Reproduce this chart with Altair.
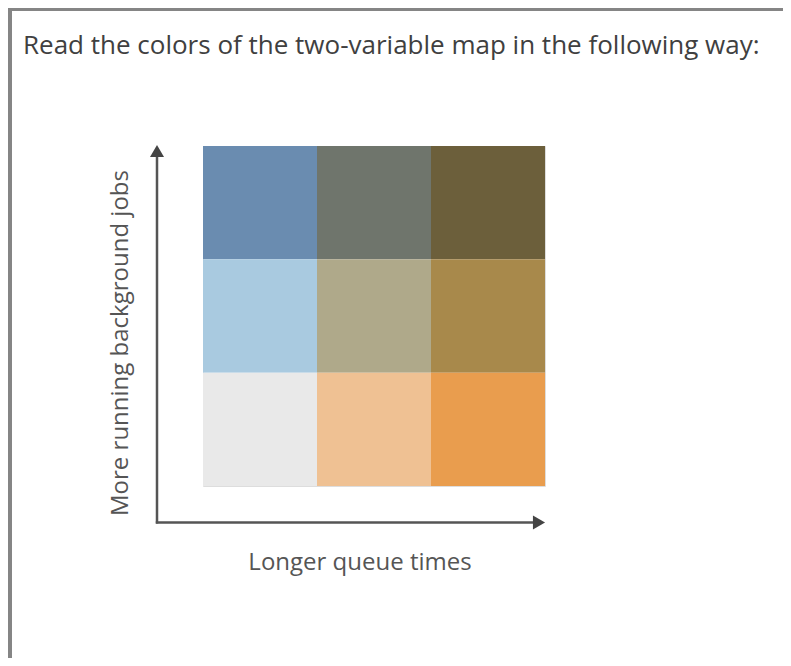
import altair as alt
import pandas as pd

# 3x3 bivariate legend cells: column = queue time level, row = background job level
queue_level = [0, 1, 2, 0, 1, 2, 0, 1, 2]
jobs_level = [2, 2, 2, 1, 1, 1, 0, 0, 0]
cell_colors = ["#6a8cb0", "#6f756c", "#6c5f3b",
               "#a9cae0", "#afa98a", "#a8894b",
               "#e9e9e9", "#efc193", "#e99d4e"]
cell_keys = [f"q{q}j{j}" for q, j in zip(queue_level, jobs_level)]

title_text = ["Read the colors of the two-variable map in the following way:"]
x_label = ["Longer queue times"]
y_label = ["More running background jobs"]

FONT = "Open Sans"

cells = pd.DataFrame({"queue": queue_level, "jobs": jobs_level, "key": cell_keys})

grid = alt.Chart(cells).mark_rect().encode(
    x=alt.X("queue:O", axis=None, scale=alt.Scale(paddingInner=0, paddingOuter=0)),
    y=alt.Y("jobs:O", axis=None, sort="descending",
            scale=alt.Scale(paddingInner=0, paddingOuter=0)),
    color=alt.Color("key:N", scale=alt.Scale(domain=cell_keys, range=cell_colors), legend=None),
)

one = pd.DataFrame({"a": [0]})
axis_col = "#555555"

v_line = alt.Chart(one).mark_rule(color=axis_col, strokeWidth=2.5).encode(
    x=alt.value(-46), y=alt.value(377.5), y2=alt.value(8))
h_line = alt.Chart(one).mark_rule(color=axis_col, strokeWidth=2.5).encode(
    x=alt.value(-47.2), x2=alt.value(333), y=alt.value(376.5))
up_head = alt.Chart(one).mark_point(shape="triangle-up", filled=True, opacity=1,
                                    color="#444444", size=196).encode(
    x=alt.value(-46), y=alt.value(5))
right_head = alt.Chart(one).mark_point(shape="triangle-right", filled=True, opacity=1,
                                       color="#444444", size=196).encode(
    x=alt.value(336), y=alt.value(376.5))

border_col = "#858585"
top_border = alt.Chart(one).mark_rule(color=border_col, strokeWidth=3).encode(
    x=alt.value(-200), x2=alt.value(600), y=alt.value(-136.5))
left_border = alt.Chart(one).mark_rule(color=border_col, strokeWidth=4).encode(
    x=alt.value(-193), y=alt.value(-140), y2=alt.value(600))

title = alt.Chart(pd.DataFrame({"t": title_text})).mark_text(
    align="left", baseline="alphabetic", font=FONT, fontSize=26, color="#404040").encode(
    x=alt.value(-180), y=alt.value(-92), text="t:N")
xlab = alt.Chart(pd.DataFrame({"t": x_label})).mark_text(
    align="center", baseline="alphabetic", font=FONT, fontSize=24, color="#555555").encode(
    x=alt.value(157), y=alt.value(424), text="t:N")
ylab = alt.Chart(pd.DataFrame({"t": y_label})).mark_text(
    align="center", baseline="alphabetic", angle=270, font=FONT, fontSize=24,
    color="#555555").encode(
    x=alt.value(-75), y=alt.value(197), text="t:N")

chart = alt.layer(
    grid, v_line, h_line, up_head, right_head, top_border, left_border, title, xlab, ylab
).properties(
    width=342, height=340,
    autosize=alt.AutoSizeParams(type="none"),
    padding={"left": 195, "top": 138, "right": 238, "bottom": 172},
).configure_view(stroke=None).configure(background="white")

chart.save("out.html", embed_options={"renderer": "svg", "actions": False})
